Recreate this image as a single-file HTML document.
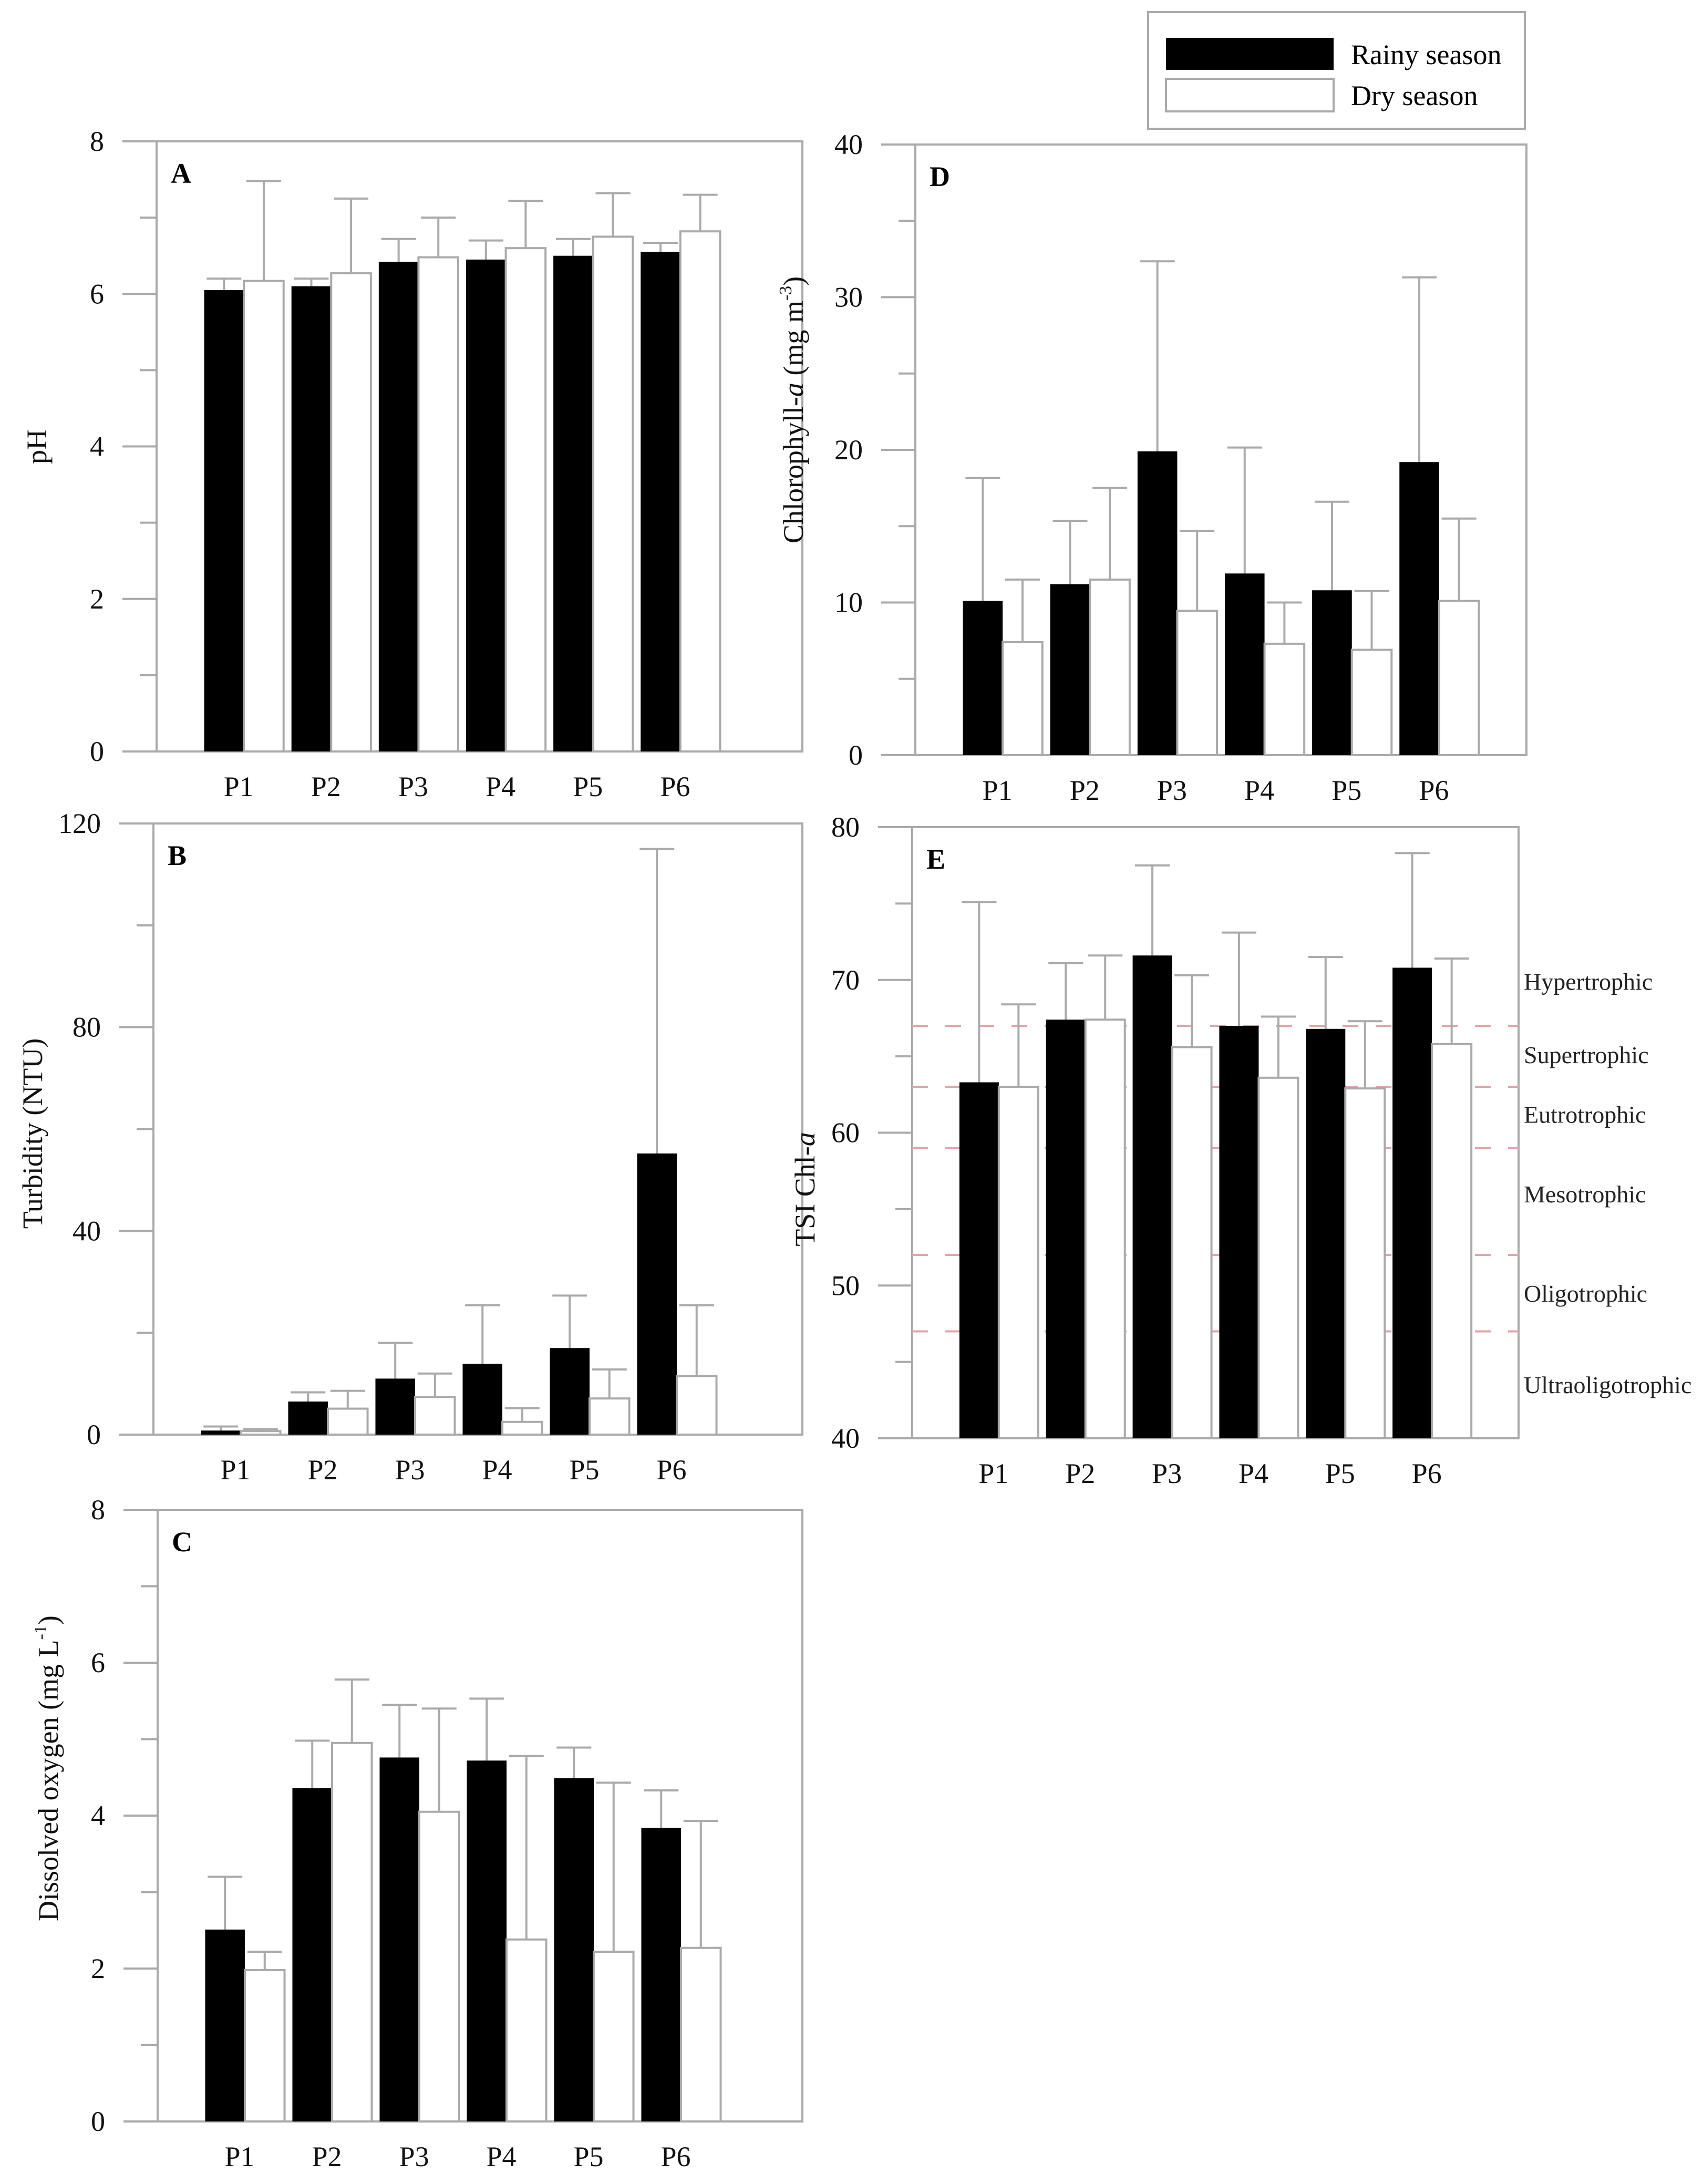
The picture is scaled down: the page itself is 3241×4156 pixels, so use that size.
<!DOCTYPE html>
<html><head><meta charset="utf-8"><title>Water quality panels</title>
<style>
html,body{margin:0;padding:0;background:#fff;}
svg{display:block;font-family:"Liberation Serif","Times New Roman",serif;}
</style></head>
<body>
<svg id="fig" width="3241" height="4156" viewBox="0 0 3241 4156" xmlns="http://www.w3.org/2000/svg">
  <g>
    <rect x="2185" y="23" width="717" height="222" fill="#fff" stroke="#aaa" stroke-width="4"/>
    <rect x="2219" y="72" width="319" height="61" fill="#000"/>
    <rect x="2219" y="150" width="319" height="62" fill="#fff" stroke="#aaa" stroke-width="4"/>
    <text x="2571" y="122" font-size="54">Rainy season</text>
    <text x="2571" y="200" font-size="54">Dry season</text>
  </g>
</svg>
<script>
const categories = ["P1","P2","P3","P4","P5","P6"];

const phRainy = [6.05,6.1,6.42,6.45,6.5,6.55];
const phRainyTop = [6.2,6.2,6.72,6.7,6.72,6.67];
const phDry = [6.17,6.27,6.48,6.6,6.75,6.82];
const phDryTop = [7.48,7.25,7.0,7.22,7.32,7.3];
const phTicks = ["0","2","4","6","8"];

const turbRainy = [0.8,6.5,11,13.9,17,55.2];
const turbRainyTop = [1.6,8.3,18,25.4,27.3,115];
const turbDry = [0.7,5.1,7.4,2.5,7.1,11.5];
const turbDryTop = [1.1,8.6,12,5.2,12.8,25.4];
const turbTicks = ["0","40","80","120"];

const doRainy = [2.51,4.36,4.76,4.72,4.49,3.84];
const doRainyTop = [3.2,4.98,5.45,5.53,4.89,4.33];
const doDry = [1.98,4.95,4.05,2.38,2.22,2.27];
const doDryTop = [2.22,5.78,5.4,4.78,4.43,3.93];
const doTicks = ["0","2","4","6","8"];

const chlRainy = [10.1,11.2,19.9,11.9,10.8,19.2];
const chlRainyTop = [18.15,15.35,32.35,20.15,16.6,31.3];
const chlDry = [7.4,11.5,9.45,7.3,6.9,10.1];
const chlDryTop = [11.5,17.5,14.7,10.0,10.75,15.5];
const chlTicks = ["0","10","20","30","40"];

const tsiRainy = [63.3,67.4,71.6,67.0,66.8,70.8];
const tsiRainyTop = [75.1,71.1,77.5,73.1,71.5,78.3];
const tsiDry = [63.0,67.4,65.6,63.6,62.9,65.8];
const tsiDryTop = [68.4,71.6,70.3,67.6,67.3,71.4];
const tsiTicks = ["40","50","60","70","80"];
const trophicLimits = [47,52,59,63,67];
const trophicNames = ["Hypertrophic","Supertrophic","Eutrotrophic","Mesotrophic","Oligotrophic","Ultraoligotrophic"];
const trophicLabelValues = [69.9,65.1,61.2,56,49.5,43.5];

const NS = "http://www.w3.org/2000/svg";
const svg = document.getElementById("fig");
const GRAY = "#aaa";

function mk(tag, attrs, parent){
  const e = document.createElementNS(NS, tag);
  for (const k in attrs) e.setAttribute(k, attrs[k]);
  parent.appendChild(e);
  return e;
}

function drawPanel(p){
  const g = mk("g", {}, svg);
  
  
  const W = p.right - p.left;
  const band = W / 7;
  const bw = band * 0.455;
  const fr = p.frameRight || p.right;
  const ticks = p.ticks.map(Number);
  const min = ticks[0], max = ticks[ticks.length-1];
  const y = v => p.bottom - (v - min) / (max - min) * (p.bottom - p.top);
  const xc = i => p.left + (i + 1) * band;

  const frame = mk("rect", {x:p.left, y:p.top, width:fr-p.left, height:p.bottom-p.top, fill:"none", stroke:GRAY, "stroke-width":4}, g);
  
  

  if (p.lines){
    p.lines.forEach((v, i) => {
      const l = mk("line", {x1:p.left, x2:fr, y1:y(v), y2:y(v), stroke:"#e3a3ab", "stroke-width":4, "stroke-dasharray":"30 33"}, g);
      
      
    });
  }

  for (let k = 0; k < ticks.length; k++){
    const ty = y(ticks[k]);
    const t = mk("line", {x1:p.left-65, x2:p.left, y1:ty, y2:ty, stroke:GRAY, "stroke-width":4}, g);
    
    
    const lab = mk("text", {x:p.left-100, y:ty+18, "font-size":54, "text-anchor":"end", fill:"#111"}, g);
    lab.textContent = p.ticks[k];
    
    
    if (k < ticks.length - 1){
      const mv = (ticks[k] + ticks[k+1]) / 2;
      const m = mk("line", {x1:p.left-32, x2:p.left, y1:y(mv), y2:y(mv), stroke:GRAY, "stroke-width":4}, g);
      
      
    }
  }

  categories.forEach((c, i) => {
    const cx = xc(i);
    const series = [
      {v:p.rainy[i], top:p.rainyTop[i], x:cx-bw, fill:"#000", stroke:"none", name:"bar-rainy-"},
      {v:p.dry[i], top:p.dryTop[i], x:cx, fill:"#fff", stroke:GRAY, name:"bar-dry-"}
    ];
    series.forEach(s => {
      const mid = s.x + bw/2;
      const e1 = mk("line", {x1:mid, x2:mid, y1:y(s.v), y2:y(s.top), stroke:GRAY, "stroke-width":4}, g);
      
      
      const e2 = mk("line", {x1:mid-33, x2:mid+33, y1:y(s.top), y2:y(s.top), stroke:GRAY, "stroke-width":4}, g);
      
      
      const r = mk("rect", {x:s.x, y:y(s.v), width:bw, height:y(min)-y(s.v), fill:s.fill, stroke:s.stroke, "stroke-width":s.stroke==="none"?0:4}, g);
      
      
    });
    const xl = mk("text", {x:cx-10, y:p.bottom+85, "font-size":54, "text-anchor":"middle", fill:"#111"}, g);
    xl.textContent = c;
    
    
  });

  const pl = mk("text", {x:p.left+27, y:p.top+79, "font-size":54, "font-weight":"bold"}, g);
  pl.textContent = p.id;
  
  

  const yt = mk("text", {x:0, y:0, "font-size":54, "text-anchor":"middle", fill:"#111", transform:"translate(" + p.titleX + "," + p.titleY + ") rotate(-90)"}, g);
  yt.innerHTML = p.title;
  
  

  if (p.labels){
    p.labels.forEach((nm, i) => {
      const t = mk("text", {x:fr+10, y:y(p.labelValues[i])+16, "font-size":46, fill:"#222"}, g);
      t.textContent = nm;
      
      
    });
  }
}

drawPanel({id:"A", left:298, right:1461, frameRight:1527, top:269, bottom:1430, ticks:phTicks,
  rainy:phRainy, rainyTop:phRainyTop, dry:phDry, dryTop:phDryTop,
  title:"pH", titleX:88, titleY:850});
drawPanel({id:"B", left:292, right:1454, frameRight:1527, top:1567, bottom:2730, ticks:turbTicks,
  rainy:turbRainy, rainyTop:turbRainyTop, dry:turbDry, dryTop:turbDryTop,
  title:"Turbidity (NTU)", titleX:80, titleY:2157});
drawPanel({id:"C", left:300, right:1462, frameRight:1527, top:2873, bottom:4037, ticks:doTicks,
  rainy:doRainy, rainyTop:doRainyTop, dry:doDry, dryTop:doDryTop,
  title:'Dissolved oxygen (mg L<tspan font-size="34" dy="-22">-1</tspan><tspan dy="22">)</tspan>', titleX:110, titleY:3365});
drawPanel({id:"D", left:1742, right:2905, top:275, bottom:1437, ticks:chlTicks,
  rainy:chlRainy, rainyTop:chlRainyTop, dry:chlDry, dryTop:chlDryTop,
  title:'Chlorophyll-<tspan font-style="italic">a</tspan> (mg m<tspan font-size="34" dy="-22">-3</tspan><tspan dy="22">)</tspan>', titleX:1528, titleY:780});
drawPanel({id:"E", left:1736, right:2890, top:1574, bottom:2737, ticks:tsiTicks,
  rainy:tsiRainy, rainyTop:tsiRainyTop, dry:tsiDry, dryTop:tsiDryTop,
  lines:trophicLimits, labels:trophicNames, labelValues:trophicLabelValues,
  title:'TSI Chl-<tspan font-style="italic">a</tspan>', titleX:1550, titleY:2263});
</script>
</body></html>
